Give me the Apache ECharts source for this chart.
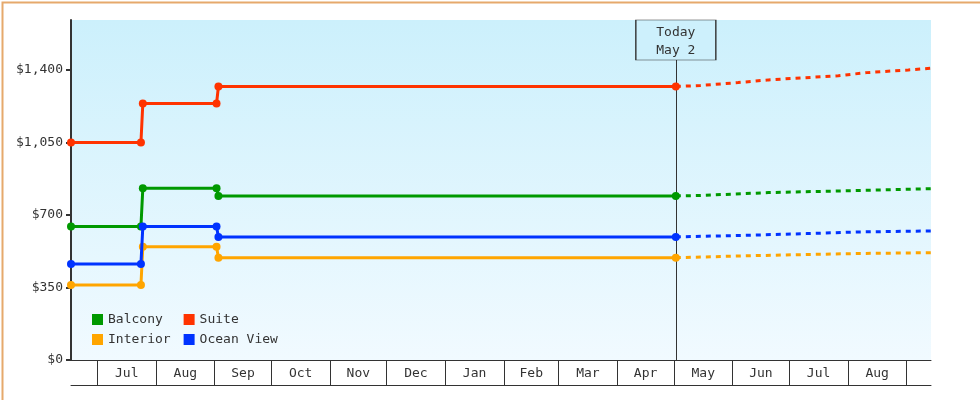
<!DOCTYPE html>
<html><head><meta charset="utf-8">
<script src="https://cdn.jsdelivr.net/npm/echarts@6/dist/echarts.min.js"></script>
<style>html,body{margin:0;padding:0;background:#fff}#c{width:980px;height:400px}</style>
</head><body><div id="c"></div>
<script>
// ---- data ----
const seriesNames = ['Balcony', 'Interior', 'Suite', 'Ocean View'];
const seriesColors = ['#009900', '#ffa500', '#ff3300', '#0033ff'];
const historyDates = ['2023-06-17', '2023-07-24', '2023-07-25', '2023-09-02', '2023-09-03', '2024-05-02'];
const balconyHistory = [644, 644, 829, 829, 792, 792];
const interiorHistory = [362, 362, 547, 547, 494, 494];
const suiteHistory = [1050, 1050, 1238, 1238, 1320, 1320];
const oceanHistory = [463, 463, 644, 644, 594, 594];

const balconyForecastDates = ['2024-05-02', '2024-05-15', '2024-06-20', '2024-07-28', '2024-09-14'];
const balconyForecast = [792, 794, 808, 816, 827];
const interiorForecastDates = ['2024-05-02', '2024-06-14', '2024-07-10', '2024-08-06', '2024-09-14'];
const interiorForecast = [494, 504, 509, 514, 518];
const suiteForecastDates = ['2024-05-02', '2024-05-15', '2024-06-04', '2024-06-20', '2024-07-27', '2024-08-11', '2024-09-02', '2024-09-14'];
const suiteForecast = [1320, 1325, 1339, 1352, 1372, 1387, 1400, 1408];
const oceanForecastDates = ['2024-05-02', '2024-06-09', '2024-07-10', '2024-08-06', '2024-09-14'];
const oceanForecast = [594, 602, 610, 618, 623];

const monthLabels = ['Jul', 'Aug', 'Sep', 'Oct', 'Nov', 'Dec', 'Jan', 'Feb', 'Mar', 'Apr', 'May', 'Jun', 'Jul', 'Aug'];
const monthStarts = ['2023-07-01', '2023-08-01', '2023-09-01', '2023-10-01', '2023-11-01', '2023-12-01', '2024-01-01', '2024-02-01', '2024-03-01', '2024-04-01', '2024-05-01', '2024-06-01', '2024-07-01', '2024-08-01', '2024-09-01'];
const yTicks = [0, 350, 700, 1050, 1400];
const xStart = '2023-06-17';
const xEnd = '2024-09-14';
const yMax = 1641;
const todayDate = '2024-05-02';
const todayLabel = 'Today\nMay 2';

// ---- build ----
const ts = d => Date.parse(d + 'T00:00:00Z');
const pair = (dates, vals) => dates.map((d, i) => [ts(d), vals[i]]);
const startTs = monthStarts.map(ts);
const midTs = monthLabels.map((_, i) => (startTs[i] + startTs[i + 1]) / 2);
const histories = [balconyHistory, interiorHistory, suiteHistory, oceanHistory];
const fDates = [balconyForecastDates, interiorForecastDates, suiteForecastDates, oceanForecastDates];
const fVals = [balconyForecast, interiorForecast, suiteForecast, oceanForecast];
const FONT = 'DejaVu Sans Mono';

const series = [];
seriesNames.forEach((n, i) => {
  series.push({
    name: n, type: 'line', data: pair(historyDates, histories[i]),
    color: seriesColors[i], symbol: 'circle', symbolSize: 8, showAllSymbol: true,
    lineStyle: { width: 3 }, z: 3 + i, animation: false, silent: true
  });
  series.push({
    name: n, type: 'line', data: pair(fDates[i], fVals[i]),
    color: seriesColors[i], showSymbol: false, symbol: 'none',
    lineStyle: { width: 3, type: [5, 5] }, z: 3 + i, animation: false, silent: true
  });
});
series[0].markLine = {
  silent: true, symbol: 'none', z: 1, animation: false,
  label: { show: false },
  lineStyle: { color: '#333', width: 1, type: 'solid' },
  data: [{ xAxis: ts(todayDate) }]
};
series[0].markPoint = {
  silent: true, z: 20, animation: false,
  symbol: 'rect', symbolSize: [80, 40], symbolOffset: [0, 20],
  itemStyle: { color: '#cdf0fc', borderColor: '#333', borderWidth: 1 },
  label: { show: true, position: 'inside', offset: [0, 2], formatter: todayLabel, color: '#333', fontFamily: FONT, fontSize: 13, lineHeight: 18 },
  data: [{ coord: [ts(todayDate), yMax] }]
};

const legendCommon = {
  icon: 'rect', itemWidth: 11, itemHeight: 11, itemGap: 13, left: 92, padding: 0,
  formatter: name => name.padEnd(8, ' '),
  textStyle: { fontFamily: FONT, fontSize: 13, color: '#333' },
  selectedMode: false
};

const chart = echarts.init(document.getElementById('c'));
chart.setOption({
  animation: false,
  grid: {
    left: 71, right: 49, top: 20, bottom: 40, show: true, borderWidth: 0,
    backgroundColor: { type: 'linear', x: 0, y: 0, x2: 0, y2: 1, colorStops: [{ offset: 0, color: '#ccf0fc' }, { offset: 1, color: '#f1faff' }] }
  },
  legend: [
    Object.assign({}, legendCommon, { data: ['Balcony', 'Suite'], top: 313 }),
    Object.assign({}, legendCommon, { data: ['Interior', 'Ocean View'], top: 333 })
  ],
  xAxis: [{
    type: 'value', min: ts(xStart), max: ts(xEnd),
    axisLine: { show: true, lineStyle: { color: '#333', width: 1 } },
    axisTick: { show: true, length: 25, customValues: startTs, lineStyle: { color: '#333', width: 1 } },
    axisLabel: {
      show: true, customValues: midTs, margin: 7, hideOverlap: false,
      fontFamily: FONT, fontSize: 13, color: '#333',
      formatter: v => { const k = midTs.findIndex(m => Math.abs(m - v) < 3600000); return k >= 0 ? monthLabels[k] : ''; }
    },
    splitLine: { show: false }
  }, {
    type: 'value', min: ts(xStart), max: ts(xEnd), position: 'bottom', offset: 25,
    axisLine: { show: true, lineStyle: { color: '#333', width: 1 } },
    axisTick: { show: false }, axisLabel: { show: false }, splitLine: { show: false }
  }],
  yAxis: {
    type: 'value', min: 0, max: yMax, interval: 350,
    axisLine: { show: true, lineStyle: { color: '#333', width: 2 } },
    axisTick: { show: true, length: 5, customValues: yTicks, lineStyle: { color: '#333', width: 2 } },
    axisLabel: {
      customValues: yTicks, margin: 8, fontFamily: FONT, fontSize: 13, color: '#333', padding: [4, 0, 0, 0],
      formatter: v => '$' + v.toLocaleString('en-US')
    },
    splitLine: { show: false }
  },
  series: series,
  graphic: [{
    type: 'rect', left: 0, top: 0, z: 100, silent: true,
    shape: { width: 979, height: 399 },
    style: { fill: null, stroke: '#e6a96c', lineWidth: 2 }
  }]
});
</script></body></html>
